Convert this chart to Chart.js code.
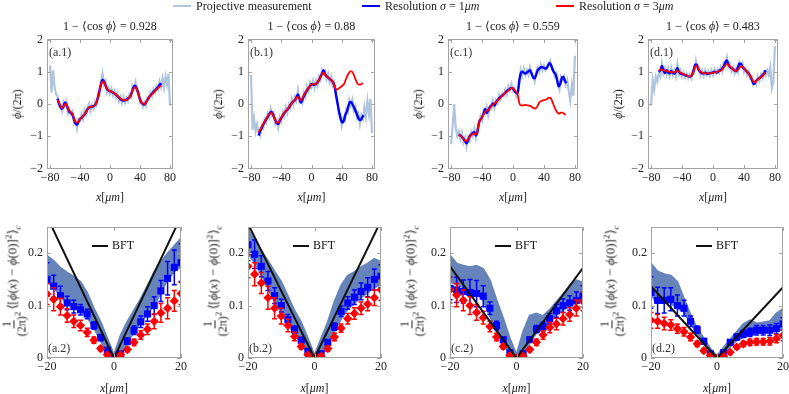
<!DOCTYPE html>
<html>
<head>
<meta charset="utf-8">
<script src="https://cdn.jsdelivr.net/npm/chart.js@4.4.1/dist/chart.umd.min.js"></script>
<style>
  html, body { margin: 0; padding: 0; background: #fff; }
  body { width: 789px; height: 394px; position: relative; overflow: hidden;
         font-family: 'Liberation Serif', 'Times New Roman', serif; font-size: 12px; color: #222; }
  canvas { position: absolute; }
  .txt { position: absolute; white-space: nowrap; line-height: 1; }
  .ctr { transform: translate(-50%, -50%); }
  .mid { transform: translate(0, -50%); }
  .rot { transform: translate(-50%, -50%) rotate(-90deg); }
  .corr { font-size: 13px; }
  .key { position: absolute; height: 2px; }
  .frac { display: inline-flex; flex-direction: column; align-items: center; vertical-align: middle; font-size: 12px; margin-right: 2px; }
  .frac span:first-child { border-bottom: 1px solid #222; padding: 0 1px 1px; }
  .frac span:last-child { padding-top: 1px; }
  sup, sub { font-size: 9px; line-height: 0; }
</style>
</head>
<body>
<script>
// ---- top row: phase profiles phi/(2pi) ----
const projX = [-80,-78,-76,-74,-72,-70,-68,-66,-64,-62,-60,-58,-56,-54,-52,-50,-48,-46,-44,-42,
  -40,-38,-36,-34,-32,-30,-28,-26,-24,-22,-20,-18,-16,-14,-12,-10,-8,-6,-4,-2,
  0,2,4,6,8,10,12,14,16,18,20,22,24,26,28,30,32,34,36,38,
  40,42,44,46,48,50,52,54,56,58,60,62,64,66,68,70,72,74,76,78,80];

// projective measurement (raw), one value per projX
const projA = [1.2,0.35,1.05,0.55,0.3,0.25,-0.07,-0.05,-0.21,0.06,
  -0.05,0.08,-0.28,-0.16,-0.32,-0.23,-0.59,-0.51,-0.76,-0.46,
  -0.51,-0.31,-0.47,-0.19,-0.33,-0.12,0.01,-0.21,-0.04,-0.15,
  0.07,-0.03,0.33,0.29,0.7,0.95,0.62,0.72,0.37,0.5,
  0.31,0.47,0.27,0.4,0.21,0.33,0.09,0.22,0.03,0.21,
  0.04,0.2,0.1,0.3,0.22,0.57,0.5,0.68,0.38,0.37,
  0.05,0.12,-0.08,0.06,-0.05,0.2,0.15,0.36,0.25,0.46,
  0.35,0.55,0.45,0.7,0.52,0.8,0.5,0.85,0.6,0.95,-0.05];
const projB = [0.9,-0.8,-0.45,-0.85,-0.62,-0.88,-0.98,-0.68,-0.75,-0.48,
  -0.58,-0.3,-0.42,-0.15,-0.36,-0.28,-0.62,-0.5,-0.74,-0.42,
  -0.55,-0.25,-0.38,-0.1,-0.28,-0.02,-0.14,0.15,-0.02,0.22,
  0.1,0.42,0.08,0.14,0.04,0.36,0.24,0.53,0.4,0.66,
  0.52,0.72,0.5,0.73,0.57,0.86,0.75,1.06,0.96,1.03,
  0.77,0.93,0.68,0.85,0.58,0.68,0.25,0.2,-0.3,-0.3,
  -0.67,-0.44,-0.52,-0.16,-0.25,0.12,-0.05,0.13,-0.22,-0.08,
  -0.42,-0.3,-0.62,-0.34,-0.47,-0.1,-0.4,0.1,-0.3,0.15,-0.9];
const projC = [-1.25,-0.7,0.0,-0.75,-1.0,-0.85,-1.1,-0.9,-1.2,-1.05,
  -1.32,-1.05,-1.15,-0.88,-1.0,-0.78,-1.05,-0.75,-0.65,-0.38,
  -0.52,-0.2,-0.3,-0.08,-0.35,-0.1,-0.15,0.1,-0.12,0.12,
  0.02,0.28,0.14,0.32,0.25,0.45,0.3,0.55,0.42,0.62,
  0.42,0.5,0.25,0.42,0.6,1.05,0.88,1.1,0.9,1.05,
  0.9,1.15,0.98,0.85,0.7,1.0,1.15,1.0,1.22,1.05,
  1.2,1.05,1.15,1.25,1.35,1.12,1.1,0.85,0.95,0.6,
  0.45,0.85,0.75,0.85,0.6,0.75,0.4,0.1,0.6,0.25,1.5];
const projD = [-0.05,0.75,0.45,0.85,0.7,0.98,0.85,1.25,0.95,1.1,
  0.9,1.1,0.88,1.12,0.9,1.05,0.85,1.25,0.92,1.05,
  0.85,0.98,0.82,0.95,0.8,0.92,0.8,1.05,1.0,1.35,
  1.15,1.12,0.9,1.05,0.88,1.05,0.9,1.02,0.88,1.05,
  0.9,1.08,0.95,1.08,0.98,1.15,1.02,1.28,1.25,1.45,
  1.15,1.25,1.02,1.15,0.95,1.1,0.98,1.3,1.2,1.28,
  1.0,1.1,0.9,1.02,0.8,0.85,0.6,0.68,0.6,0.85,
  0.72,0.92,0.8,1.0,0.88,1.05,0.9,1.15,0.5,0.7,1.8];

// resolution sigma = 1um, [x, phi/(2pi)]
const blueA = [[-70,0.17],[-68,0.02],[-66,-0.1],[-64,-0.15],[-62,-0.08],[-60,0.05],[-58,-0.02],[-56,-0.15],[-54,-0.25],[-52,-0.28],
  [-50,-0.33],[-48,-0.48],[-46,-0.6],[-44,-0.64],[-42,-0.56],[-40,-0.47],[-38,-0.43],[-36,-0.38],[-33,-0.3],[-30,-0.16],
  [-27,-0.1],[-24,-0.08],[-21,-0.06],[-18,0.05],[-16,0.2],[-14,0.42],[-12,0.62],[-10,0.75],[-8,0.7],[-6,0.58],
  [-4,0.46],[-2,0.42],[0,0.4],[3,0.37],[6,0.33],[9,0.27],[12,0.2],[15,0.13],[18,0.11],[21,0.12],
  [24,0.17],[27,0.24],[29,0.35],[31,0.5],[33,0.57],[35,0.52],[37,0.4],[39,0.22],[41,0.08],[44,0.0],
  [46,-0.02],[48,0.05],[50,0.13],[53,0.24],[56,0.32],[59,0.4],[62,0.47],[65,0.55],[67,0.62],[68,0.58]];
const blueB = [[-70,-0.98],[-68,-0.85],[-66,-0.75],[-63,-0.6],[-60,-0.48],[-57,-0.36],[-55,-0.28],[-53,-0.25],[-51,-0.32],[-48,-0.5],
  [-46,-0.6],[-44,-0.62],[-42,-0.52],[-39,-0.4],[-36,-0.28],[-33,-0.2],[-30,-0.12],[-27,0.0],[-24,0.08],[-22,0.12],
  [-20,0.2],[-18,0.3],[-16,0.18],[-14,0.04],[-12,0.14],[-9,0.3],[-6,0.42],[-3,0.52],[0,0.62],[3,0.6],
  [6,0.62],[9,0.7],[12,0.85],[14,0.95],[16,1.05],[18,0.92],[21,0.84],[24,0.78],[27,0.72],[29,0.65],
  [31,0.5],[33,0.2],[35,-0.05],[37,-0.3],[39,-0.5],[41,-0.58],[43,-0.5],[45,-0.32],[47,-0.22],[49,-0.05],
  [51,0.06],[53,0.05],[55,-0.05],[57,-0.15],[59,-0.25],[61,-0.38],[63,-0.48],[65,-0.5],[67,-0.42],[69,-0.35]];
const blueC = [[-70,-0.95],[-67,-1.0],[-64,-1.08],[-62,-1.15],[-60,-1.22],[-58,-1.12],[-56,-1.0],[-54,-0.95],[-52,-0.9],[-50,-0.88],
  [-48,-0.98],[-46,-0.88],[-44,-0.58],[-41,-0.45],[-38,-0.3],[-36,-0.15],[-34,-0.28],[-32,-0.2],[-30,-0.1],[-28,-0.05],
  [-26,0.02],[-24,-0.05],[-22,0.05],[-19,0.15],[-16,0.22],[-13,0.28],[-10,0.35],[-7,0.42],[-4,0.47],[-2,0.5],
  [0,0.48],[2,0.4],[4,0.35],[6,0.32],[8,0.7],[10,0.95],[12,1.0],[14,0.97],[16,0.95],[18,0.98],
  [20,1.02],[22,1.05],[24,0.95],[26,0.82],[28,0.8],[30,0.92],[32,1.05],[34,1.1],[37,1.15],[40,1.12],
  [43,1.1],[45,1.18],[47,1.27],[49,1.22],[51,1.08],[53,0.98],[55,0.92],[57,0.75],[59,0.55],[61,0.62],
  [63,0.8],[65,0.85],[67,0.72],[69,0.65]];
const blueD = [[-70,1.0],[-68,1.05],[-66,1.18],[-64,1.05],[-62,0.96],[-60,1.05],[-58,0.98],[-56,0.95],[-54,1.03],[-52,0.97],
  [-50,0.95],[-48,1.0],[-46,1.12],[-44,1.0],[-42,0.95],[-38,0.92],[-34,0.88],[-30,0.85],[-27,0.9],[-25,1.05],
  [-23,1.22],[-21,1.22],[-19,1.08],[-16,0.98],[-13,0.95],[-10,0.97],[-7,0.93],[-4,0.96],[-1,0.97],[2,1.0],
  [5,0.98],[8,1.03],[11,1.08],[14,1.18],[16,1.3],[18,1.35],[20,1.22],[22,1.15],[25,1.1],[28,1.04],
  [30,1.02],[32,1.12],[34,1.25],[36,1.25],[38,1.15],[41,1.08],[44,1.0],[47,0.92],[49,0.82],[51,0.7],
  [53,0.62],[55,0.7],[58,0.77],[61,0.82],[64,0.9],[66,0.95],[68,1.05]];

// resolution sigma = 3um, [x, phi/(2pi)]
const redA = [[-70,0.13],[-67,0.0],[-65,-0.1],[-63,-0.12],[-60,0.0],[-58,-0.02],[-55,-0.18],[-52,-0.26],[-50,-0.3],[-48,-0.45],
  [-46,-0.56],[-44,-0.58],[-41,-0.5],[-38,-0.42],[-35,-0.35],[-32,-0.26],[-29,-0.14],[-26,-0.09],[-22,-0.07],[-19,0.0],
  [-17,0.12],[-15,0.3],[-13,0.52],[-11,0.66],[-9,0.7],[-7,0.62],[-5,0.5],[-2,0.42],[1,0.39],[4,0.36],
  [8,0.3],[12,0.2],[15,0.14],[18,0.12],[21,0.12],[24,0.16],[27,0.24],[29,0.35],[31,0.47],[33,0.52],
  [35,0.48],[37,0.37],[39,0.2],[41,0.08],[44,0.01],[46,0.0],[48,0.05],[50,0.13],[53,0.24],[56,0.31],
  [59,0.38],[62,0.45],[65,0.52],[68,0.57]];
const redB = [[-70,-0.88],[-67,-0.76],[-64,-0.62],[-61,-0.5],[-58,-0.38],[-55,-0.3],[-53,-0.28],[-51,-0.34],[-48,-0.5],[-46,-0.58],
  [-44,-0.58],[-42,-0.5],[-39,-0.38],[-36,-0.27],[-33,-0.2],[-30,-0.1],[-27,0.0],[-24,0.08],[-21,0.16],[-19,0.22],
  [-17,0.2],[-15,0.12],[-13,0.15],[-10,0.28],[-7,0.4],[-4,0.5],[-1,0.6],[2,0.62],[5,0.62],[8,0.68],
  [11,0.8],[14,0.92],[16,0.98],[18,0.9],[21,0.84],[24,0.78],[27,0.72],[29,0.65],[31,0.52],[33,0.45],
  [35,0.46],[37,0.5],[40,0.55],[43,0.62],[46,0.8],[49,0.95],[52,1.02],[55,0.96],[58,0.78],[61,0.63],
  [64,0.6],[66,0.62],[68,0.65]];
const redC = [[-70,-0.95],[-67,-1.0],[-64,-1.08],[-61,-1.16],[-59,-1.12],[-56,-1.02],[-53,-0.95],[-50,-0.92],[-48,-0.95],[-46,-0.85],
  [-44,-0.58],[-41,-0.45],[-38,-0.32],[-35,-0.22],[-32,-0.18],[-29,-0.1],[-26,-0.02],[-23,0.03],[-20,0.1],[-16,0.2],
  [-12,0.3],[-8,0.38],[-4,0.46],[-1,0.5],[2,0.43],[4,0.38],[6,0.3],[8,0.05],[10,-0.04],[13,-0.04],
  [16,-0.03],[19,-0.04],[22,-0.06],[25,-0.1],[28,-0.14],[30,-0.12],[32,-0.05],[34,0.05],[37,0.1],[40,0.12],
  [43,0.14],[46,0.19],[48,0.2],[50,0.13],[52,0.0],[54,-0.12],[56,-0.22],[58,-0.28],[60,-0.3],[62,-0.27],
  [64,-0.27],[66,-0.3],[68,-0.34]];
const redD = [[-70,1.02],[-67,1.08],[-64,1.05],[-60,1.02],[-55,1.0],[-50,0.98],[-47,1.04],[-44,1.0],[-40,0.95],[-35,0.9],
  [-30,0.85],[-27,0.9],[-24,1.1],[-22,1.2],[-20,1.16],[-17,1.02],[-13,0.97],[-8,0.95],[-4,0.95],[0,0.97],
  [4,1.0],[8,1.02],[12,1.07],[15,1.17],[18,1.25],[21,1.18],[25,1.1],[29,1.02],[32,1.06],[35,1.15],
  [37,1.18],[40,1.1],[44,1.0],[48,0.88],[51,0.75],[53,0.67],[56,0.72],[60,0.8],[64,0.87],[68,0.98]];

// ---- bottom row: correlation <[phi(x)-phi(0)]^2>_c / (2pi)^2 ----
const corrX = [-20,-18,-16,-14,-12,-10,-8,-6,-4,-2,0,2,4,6,8,10,12,14,16,18,20];

const blueA2 = [0.15,0.137,0.119,0.105,0.098,0.092,0.084,0.062,0.039,0.015,0,0.008,0.032,0.053,0.069,0.084,0.1,0.128,0.152,0.173,0.182];
const blueB2 = [0.216,0.198,0.175,0.147,0.119,0.1,0.073,0.054,0.034,0.013,0,0.008,0.03,0.06,0.089,0.105,0.116,0.127,0.135,0.15,0.156];
const blueC2 = [0.133,0.13,0.127,0.125,0.123,0.118,0.095,0.062,0.035,0.01,0,0.008,0.035,0.055,0.06,0.075,0.09,0.1,0.105,0.11,0.118];
const blueD2 = [0.125,0.11,0.11,0.112,0.1,0.095,0.07,0.054,0.032,0.008,0,0.01,0.03,0.04,0.046,0.049,0.053,0.053,0.053,0.056,0.065];

const blueErrA2 = [0.032,0.021,0.018,0.013,0.012,0.01,0.009,0.007,0.006,0.004,0,0.004,0.006,0.008,0.011,0.014,0.017,0.02,0.032,0.033,0.036];
const blueErrB2 = [0.03,0.027,0.02,0.018,0.015,0.012,0.01,0.007,0.005,0.004,0,0.004,0.005,0.007,0.01,0.012,0.014,0.016,0.018,0.02,0.022];
const blueErrC2 = [0.022,0.024,0.022,0.025,0.025,0.02,0.012,0.008,0.005,0.004,0,0.004,0.005,0.007,0.008,0.01,0.012,0.013,0.014,0.016,0.02];
const blueErrD2 = [0.03,0.025,0.024,0.022,0.02,0.015,0.01,0.007,0.005,0.003,0,0.003,0.004,0.006,0.007,0.008,0.009,0.009,0.01,0.01,0.012];

const redA2 = [0.122,0.112,0.098,0.081,0.07,0.062,0.049,0.034,0.018,0.006,0,0.006,0.016,0.03,0.044,0.055,0.07,0.086,0.095,0.109,0.123];
const redB2 = [0.175,0.16,0.143,0.115,0.095,0.08,0.062,0.041,0.022,0.006,0,0.004,0.018,0.04,0.057,0.075,0.085,0.095,0.103,0.115,0.13];
const redC2 = [0.13,0.12,0.11,0.1,0.087,0.077,0.06,0.04,0.022,0.005,0,0.004,0.016,0.03,0.044,0.058,0.065,0.075,0.083,0.095,0.108];
const redD2 = [0.072,0.07,0.066,0.063,0.056,0.05,0.04,0.027,0.014,0.005,0,0.003,0.011,0.021,0.027,0.03,0.031,0.031,0.032,0.037,0.043];

const redErrA2 = [0.02,0.022,0.016,0.013,0.012,0.01,0.008,0.006,0.004,0.003,0,0.003,0.004,0.006,0.008,0.01,0.014,0.018,0.02,0.02,0.021];
const redErrB2 = [0.022,0.022,0.02,0.022,0.02,0.015,0.012,0.008,0.005,0.003,0,0.003,0.005,0.007,0.008,0.01,0.011,0.012,0.013,0.015,0.02];
const redErrC2 = [0.025,0.022,0.02,0.017,0.015,0.012,0.01,0.007,0.005,0.003,0,0.003,0.004,0.006,0.008,0.01,0.011,0.012,0.013,0.015,0.018];
const redErrD2 = [0.015,0.013,0.012,0.01,0.009,0.008,0.007,0.005,0.004,0.003,0,0.002,0.003,0.004,0.005,0.006,0.006,0.006,0.007,0.008,0.01];

// projective-measurement band, upper / lower edge
const bandUpA2 = [0.195,0.185,0.172,0.163,0.155,0.145,0.124,0.094,0.069,0.037,0.006,0.043,0.069,0.091,0.113,0.138,0.164,0.183,0.199,0.214,0.228];
const bandLoA2 = [0.145,0.135,0.118,0.105,0.098,0.09,0.078,0.058,0.033,0.01,0,0.008,0.03,0.05,0.068,0.085,0.1,0.125,0.15,0.165,0.175];
const bandUpB2 = [0.245,0.225,0.205,0.185,0.165,0.145,0.118,0.09,0.068,0.037,0.005,0.037,0.068,0.107,0.138,0.157,0.164,0.173,0.18,0.189,0.183];
const bandLoB2 = [0.2,0.182,0.16,0.133,0.107,0.088,0.064,0.046,0.027,0.009,0,0.005,0.025,0.05,0.075,0.093,0.105,0.115,0.125,0.135,0.14];
const bandUpC2 = [0.196,0.18,0.176,0.173,0.176,0.17,0.148,0.11,0.075,0.037,0.006,0.05,0.081,0.085,0.08,0.092,0.107,0.122,0.138,0.148,0.144];
const bandLoC2 = [0.145,0.14,0.135,0.13,0.125,0.11,0.08,0.05,0.028,0.008,0,0.005,0.03,0.048,0.057,0.068,0.082,0.092,0.1,0.105,0.112];
const bandUpD2 = [0.18,0.165,0.16,0.157,0.145,0.113,0.082,0.056,0.037,0.018,0.004,0.02,0.035,0.05,0.065,0.072,0.066,0.068,0.07,0.085,0.094];
const bandLoD2 = [0.12,0.105,0.105,0.105,0.095,0.088,0.066,0.048,0.028,0.008,0,0.004,0.022,0.034,0.04,0.044,0.047,0.048,0.049,0.052,0.058];

// BFT prediction
const bftX = [-20, 0, 20];
const bftA = [0.27, 0, 0.27];
const bftB = [0.256, 0, 0.262];
const bftC = [0.175, 0, 0.172];
const bftD = [0.137, 0, 0.135];

// labels and ticks
const cosVals = ['0.928', '0.88', '0.559', '0.483'];
const topTags = ['(a.1)', '(b.1)', '(c.1)', '(d.1)'];
const botTags = ['(a.2)', '(b.2)', '(c.2)', '(d.2)'];
const topTicksX = [-80, -40, 0, 40, 80];
const topTicksY = [-2, -1, 0, 1, 2];
const botTicksX = [-20, 0, 20];
const botTicksY = [0, 0.1, 0.2];

// colours
const projColor = 'rgb(176,196,222)';
const bandColor = 'rgb(102,132,186)';
const blue = 'rgb(0,0,255)';
const red = 'rgb(255,0,0)';

// plot frames on the page [left, top, right, bottom]
const topBoxes = [[47,39,173,169],[248,39,375,169],[448,39,578,169],[648,39,778,169]];
const botBoxes = [[47,227,181,358],[248,227,381,358],[450,227,583,358],[651,227,783,358]];
const botTitleX = [14, 215, 412, 612];

Chart.defaults.font.family = "'Liberation Serif', 'Times New Roman', serif";
Chart.defaults.font.size = 12;
Chart.defaults.color = '#222';

const PAD_L = 44, PAD_T = 12, PAD_R = 12, PAD_B = 22;

const pairs = p => p.map(([x, y]) => ({ x, y }));
const grid = (xs, ys) => xs.map((x, i) => ({ x, y: ys[i] }));
const fmt = v => String(v).replace('-', '\u2212');

function place(box) {
    const [l, t, r, b] = box;
    const cv = document.createElement('canvas');
    cv.width = r - l + PAD_L + PAD_R;
    cv.height = b - t + PAD_T + PAD_B;
    cv.style.left = (l - PAD_L) + 'px';
    cv.style.top = (t - PAD_T) + 'px';
    document.body.appendChild(cv);
    return cv;
}

function label(html, x, y, cls) {
    const d = document.createElement('div');
    d.className = 'txt ' + cls;
    d.innerHTML = html;
    d.style.left = x + 'px';
    d.style.top = y + 'px';
    document.body.appendChild(d);
}

// frame with inward ticks, panel tag and BFT key
const framePlugin = {
    id: 'frame',
    afterDraw(chart, args, opts) {
        const { ctx, chartArea: a, scales } = chart;
        ctx.save();
        ctx.strokeStyle = '#a4a4a4';
        ctx.lineWidth = 1;
        ctx.strokeRect(a.left + 0.5, a.top + 0.5, a.right - a.left - 1, a.bottom - a.top - 1);
        ctx.beginPath();
        scales.x.ticks.forEach(t => {
            const x = Math.round(scales.x.getPixelForValue(t.value)) + 0.5;
            ctx.moveTo(x, a.bottom); ctx.lineTo(x, a.bottom - 4);
            ctx.moveTo(x, a.top); ctx.lineTo(x, a.top + 4);
        });
        scales.y.ticks.forEach(t => {
            const y = Math.round(scales.y.getPixelForValue(t.value)) + 0.5;
            ctx.moveTo(a.left, y); ctx.lineTo(a.left + 4, y);
            ctx.moveTo(a.right, y); ctx.lineTo(a.right - 4, y);
        });
        ctx.stroke();

        ctx.fillStyle = '#333';
        ctx.font = "12px 'Liberation Serif', 'Times New Roman', serif";
        ctx.textBaseline = 'middle';
        if (opts.tagTop) ctx.fillText(opts.tag, a.left + 2, a.top + 14);
        else ctx.fillText(opts.tag, a.left + 1, a.bottom - 9);

        if (opts.bft) {
            ctx.strokeStyle = '#111';
            ctx.lineWidth = 2;
            ctx.beginPath();
            ctx.moveTo(a.left + 45, a.top + 19);
            ctx.lineTo(a.left + 61, a.top + 19);
            ctx.stroke();
            ctx.fillStyle = '#111';
            ctx.fillText('BFT', a.left + 65, a.top + 19);
        }
        ctx.restore();
    }
};

// error bars, drawn just under their markers
const errPlugin = {
    id: 'errbars',
    beforeDatasetDraw(chart, args) {
        const ds = chart.data.datasets[args.index];
        if (!ds.errors) return;
        const { ctx, chartArea: a, scales: { x, y } } = chart;
        ctx.save();
        ctx.beginPath();
        ctx.rect(a.left, a.top, a.right - a.left, a.bottom - a.top);
        ctx.clip();
        ctx.strokeStyle = ds.pointBackgroundColor;
        ctx.lineWidth = 1.5;
        ctx.beginPath();
        ds.data.forEach((p, i) => {
            const e = ds.errors[i];
            if (!e) return;
            const px = x.getPixelForValue(p.x);
            const y1 = y.getPixelForValue(p.y + e);
            const y2 = y.getPixelForValue(p.y - e);
            ctx.moveTo(px, y1); ctx.lineTo(px, y2);
            ctx.moveTo(px - 2.5, y1); ctx.lineTo(px + 2.5, y1);
            ctx.moveTo(px - 2.5, y2); ctx.lineTo(px + 2.5, y2);
        });
        ctx.stroke();
        ctx.restore();
    }
};

function axes(xr, yr, xt, yt) {
    return {
        x: {
            type: 'linear', min: xr[0], max: xr[1],
            afterBuildTicks: s => { s.ticks = xt.map(v => ({ value: v })); },
            afterFit: s => { s.height = PAD_B; s.paddingLeft = 0; s.paddingRight = 0; },
            grid: { display: false, drawTicks: false },
            border: { display: false },
            ticks: { padding: 2, maxRotation: 0, autoSkip: false, callback: fmt }
        },
        y: {
            type: 'linear', min: yr[0], max: yr[1],
            afterBuildTicks: s => { s.ticks = yt.map(v => ({ value: v })); },
            afterFit: s => { s.width = PAD_L; s.paddingTop = 0; s.paddingBottom = 0; },
            grid: { display: false, drawTicks: false },
            border: { display: false },
            ticks: { padding: 4, autoSkip: false, callback: fmt }
        }
    };
}

function options(scales, frame) {
    return {
        responsive: false,
        animation: false,
        devicePixelRatio: 1,
        layout: { padding: { top: PAD_T, right: PAD_R, left: 0, bottom: 0 } },
        scales,
        plugins: { legend: { display: false }, tooltip: { enabled: false }, frame }
    };
}

const projAll = [projA, projB, projC, projD];
const blueAll = [blueA, blueB, blueC, blueD];
const redAll = [redA, redB, redC, redD];

topBoxes.forEach((box, i) => {
    new Chart(place(box), {
        type: 'scatter',
        data: {
            datasets: [
                { data: pairs(redAll[i]), showLine: true, borderColor: red, borderWidth: 1.8,
                  pointRadius: 0, cubicInterpolationMode: 'monotone', clip: 0 },
                { data: pairs(blueAll[i]), showLine: true, borderColor: blue, borderWidth: 2.4,
                  pointRadius: 0, cubicInterpolationMode: 'monotone', clip: 0 },
                { data: grid(projX, projAll[i]), showLine: true, borderColor: projColor, borderWidth: 2.2,
                  pointRadius: 0, clip: 0 }
            ]
        },
        options: options(axes([-84, 84], [-2.02, 2.02], topTicksX, topTicksY), { tag: topTags[i], tagTop: true }),
        plugins: [framePlugin]
    });
    const cx = (box[0] + box[2]) / 2;
    label('1 \u2212 \u27E8cos <i>\u03D5</i>\u27E9 = ' + cosVals[i], cx, 26, 'ctr');
    label('<i>x</i>[<i>\u03BCm</i>]', cx, 197, 'ctr');
    label('<i>\u03D5</i>/(2\u03C0)', box[0] - 30, (box[1] + box[3]) / 2, 'rot');
});

const bftAll = [bftA, bftB, bftC, bftD];
const blue2 = [blueA2, blueB2, blueC2, blueD2];
const red2 = [redA2, redB2, redC2, redD2];
const blueErr2 = [blueErrA2, blueErrB2, blueErrC2, blueErrD2];
const redErr2 = [redErrA2, redErrB2, redErrC2, redErrD2];
const bandUp2 = [bandUpA2, bandUpB2, bandUpC2, bandUpD2];
const bandLo2 = [bandLoA2, bandLoB2, bandLoC2, bandLoD2];

botBoxes.forEach((box, i) => {
    new Chart(place(box), {
        type: 'scatter',
        data: {
            datasets: [
                { data: grid(bftX, bftAll[i]), showLine: true, borderColor: '#111', borderWidth: 2,
                  pointRadius: 0, clip: 0 },
                { data: grid(corrX, red2[i]), errors: redErr2[i], pointStyle: 'rectRot', pointRadius: 4.6,
                  pointBackgroundColor: red, pointBorderWidth: 0, clip: 0 },
                { data: grid(corrX, blue2[i]), errors: blueErr2[i], pointStyle: 'rect', pointRadius: 5,
                  pointBackgroundColor: blue, pointBorderWidth: 0, clip: 0 },
                { data: grid(corrX, bandUp2[i]), showLine: true, fill: '+1', backgroundColor: bandColor,
                  borderColor: bandColor, borderWidth: 2, pointRadius: 0, clip: 0 },
                { data: grid(corrX, bandLo2[i]), showLine: true, borderColor: bandColor, borderWidth: 2,
                  pointRadius: 0, clip: 0 }
            ]
        },
        options: options(axes([-20, 20], [0, 0.25], botTicksX, botTicksY), { tag: botTags[i], tagTop: false, bft: true }),
        plugins: [framePlugin, errPlugin]
    });
    label('<i>x</i>[<i>\u03BCm</i>]', (box[0] + box[2]) / 2, 388, 'ctr');
    label('<span class="frac"><span>1</span><span>(2\u03C0)<sup>2</sup></span></span>' +
          '\u27E8[<i>\u03D5</i>(<i>x</i>) \u2212 <i>\u03D5</i>(0)]<sup>2</sup>\u27E9<sub><i>c</i></sub>',
          botTitleX[i], 281, 'rot corr');
});

// figure legend
const legendItems = [
    { html: 'Projective measurement', color: projColor, x: 173 },
    { html: 'Resolution <i>\u03C3</i> = 1<i>\u03BCm</i>', color: blue, x: 362 },
    { html: 'Resolution <i>\u03C3</i> = 3<i>\u03BCm</i>', color: red, x: 556 }
];
legendItems.forEach(it => {
    const k = document.createElement('div');
    k.className = 'key';
    k.style.left = it.x + 'px';
    k.style.top = '5px';
    k.style.width = '18px';
    k.style.background = it.color;
    document.body.appendChild(k);
    label(it.html, it.x + 23, 6, 'mid');
});
</script>
</body>
</html>
